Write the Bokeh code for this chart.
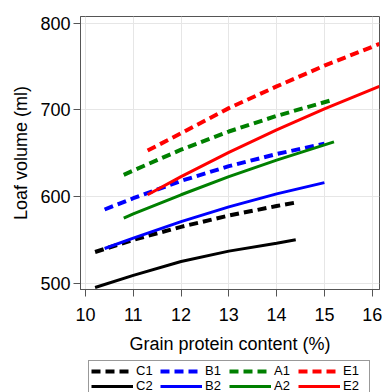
from bokeh.plotting import figure
from bokeh.models import Range1d, Legend, LegendItem, FixedTicker
from bokeh.layouts import column
from bokeh.embed import file_html
from bokeh.resources import INLINE

# ---- data ----
x_ticks = [10, 11, 12, 13, 14, 15, 16]
y_ticks = [500, 600, 700, 800]

C1_x = [10.2, 11, 12, 13, 14, 14.4]
C1_y = [536, 550, 565, 578, 589, 593]
C2_x = [10.2, 11, 12, 13, 14, 14.4]
C2_y = [495, 509, 525, 537, 546, 550]

B1_x = [10.4, 11, 12, 13, 14, 15]
B1_y = [585, 598, 618, 635, 649, 661]
B2_x = [10.4, 11, 12, 13, 14, 15]
B2_y = [540, 552, 571, 588, 603, 616]

A1_x = [10.8, 11, 12, 13, 14, 15.2]
A1_y = [625, 630, 654, 675, 693, 712]
A2_x = [10.8, 11, 12, 13, 14, 15.2]
A2_y = [575, 580, 602, 623, 642, 663]

E1_x = [11.3, 12, 13, 14, 15, 16.15]
E1_y = [653, 673, 702, 727, 751, 776]
E2_x = [11.3, 12, 13, 14, 15, 16.15]
E2_y = [602, 623, 651, 677, 701, 727]

series = [
    ("C1", C1_x, C1_y), ("B1", B1_x, B1_y), ("A1", A1_x, A1_y), ("E1", E1_x, E1_y),
    ("C2", C2_x, C2_y), ("B2", B2_x, B2_y), ("A2", A2_x, A2_y), ("E2", E2_x, E2_y),
]

FONT = "Liberation Sans"
COLORS = {"C": "black", "B": "#0000ff", "A": "#008000", "E": "#ff0000"}
DASH = "9 5"


def style(name):
    col = COLORS[name[0]]
    if name[1] == "1":
        return dict(line_color=col, line_width=4, line_dash=DASH)
    return dict(line_color=col, line_width=3)


p = figure(width=382, height=360, output_backend="svg", toolbar_location=None,
           x_range=Range1d(9.895, 16.153), y_range=Range1d(492.7, 807.7),
           min_border_top=16, min_border_right=3, min_border_left=80,
           min_border_bottom=71)

p.background_fill_color = "white"
p.border_fill_color = "white"
p.outline_line_color = "#555555"
p.outline_line_width = 1

for ax in (p.xaxis[0], p.yaxis[0]):
    ax.axis_line_color = "#555555"
    ax.major_tick_line_color = "#555555"
    ax.major_tick_out = 7
    ax.major_tick_in = 0
    ax.minor_tick_line_color = None
    ax.major_label_text_font = FONT
    ax.major_label_text_font_size = "18px"
    ax.major_label_text_color = "black"
    ax.axis_label_text_font = FONT
    ax.axis_label_text_font_size = "18px"
    ax.axis_label_text_font_style = "normal"
    ax.axis_label_text_color = "black"

p.xaxis.ticker = FixedTicker(ticks=x_ticks)
p.yaxis.ticker = FixedTicker(ticks=y_ticks)
p.xaxis.axis_label = "Grain protein content (%)"
p.yaxis.axis_label = "Loaf volume (ml)"
p.xaxis.major_label_standoff = 11
p.yaxis.major_label_standoff = 3
p.xaxis.axis_label_standoff = 10
p.yaxis.axis_label_standoff = 6

p.grid.grid_line_color = "#e6e6e6"
p.grid.grid_line_width = 1

for name, xs, ys in series:
    p.line(xs, ys, **style(name))

# ---- legend strip below the plot ----
lg = figure(width=382, height=32, output_backend="svg", toolbar_location=None,
            x_range=Range1d(0, 1), y_range=Range1d(0, 1),
            x_axis_type=None, y_axis_type=None,
            min_border_top=0, min_border_bottom=0, min_border_left=0,
            min_border_right=0)
lg.outline_line_color = None
lg.grid.visible = False
lg.background_fill_color = "white"
lg.border_fill_color = "white"

items = []
for name, xs, ys in series:
    # same data, lying outside this strip's ranges: only the legend glyph shows
    r = lg.line(xs, ys, **style(name))
    items.append(LegendItem(label=name, renderers=[r]))

legend = Legend(items=items, orientation="horizontal", ncols=4,
                location=(8, -4), margin=0, padding=2, spacing=0,
                glyph_width=42, glyph_height=14, label_height=14,
                label_width=24, label_standoff=3,
                label_text_font=FONT, label_text_font_size="13px",
                label_text_color="black",
                border_line_color="#333333", border_line_width=1,
                background_fill_color="white")
lg.add_layout(legend, "center")

layout = column(p, lg, spacing=0)
open("out.html", "w").write(file_html(layout, INLINE))
